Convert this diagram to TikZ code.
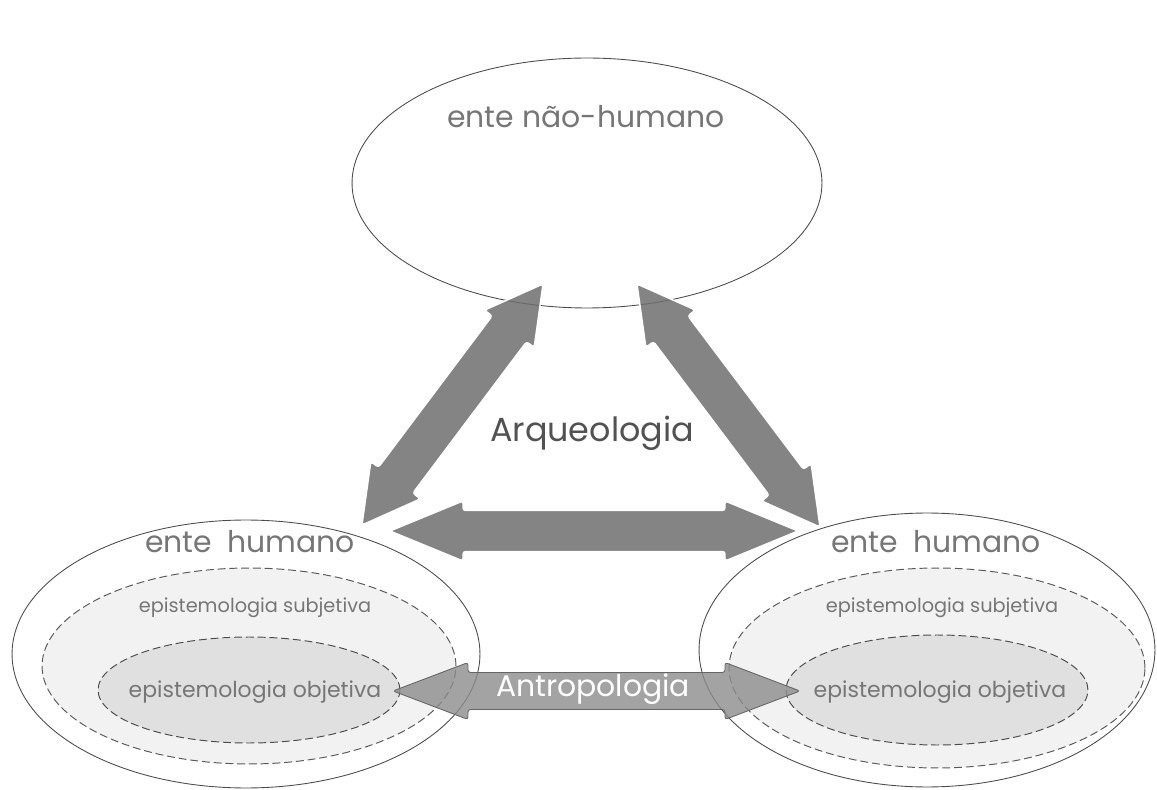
\documentclass[tikz,border=0pt]{standalone}
\usepackage{fontspec}
\setmainfont{Poppins}
\usetikzlibrary{shapes.geometric,calc}
\definecolor{txtgray}{HTML}{767676}
\definecolor{arrgray}{HTML}{6E6E6E}
\tikzset{
  outer/.style={ellipse, draw=black!70, line width=0.5pt, inner sep=0pt},
  subj/.style={ellipse, draw=black!65, line width=0.55pt, dashed, dash pattern=on 4.5pt off 2.2pt, fill=black!5, inner sep=0pt},
  obj/.style={ellipse, draw=black!70, line width=0.55pt, dashed, dash pattern=on 4.5pt off 2.2pt, fill=black!12, inner sep=0pt},
  bigtxt/.style={text=txtgray, font=\fontsize{17}{20}\selectfont},
  smalltxt/.style={text=txtgray, font=\fontsize{11}{14}\selectfont},
  darkarrow/.style={fill=arrgray, fill opacity=0.85, draw=white, line width=0.8pt, rounded corners=1.5pt},
  lightarrow/.style={fill=black!45, fill opacity=0.8, draw=black!60, line width=0.5pt, rounded corners=1.5pt}
}
\begin{document}
\begin{tikzpicture}[x=0.02cm, y=-0.02cm]
   \newcommand{\fatArrow}[6]{
        \coordinate (h1) at ($(#2)!#6!(#3)$);
        \coordinate (h2) at ($(#3)!#6!(#2)$);
        \draw[#1] (#2) -- ($(h1)!#5!90:(#3)$) -- ($(h1)!#4!90:(#3)$)
          -- ($(h2)!#4!-90:(#2)$) -- ($(h2)!#5!-90:(#2)$) -- (#3)
          -- ($(h2)!#5!90:(#2)$) -- ($(h2)!#4!90:(#2)$)
          -- ($(h1)!#4!-90:(#3)$) -- ($(h1)!#5!-90:(#3)$) -- cycle;
    }
\useasboundingbox (0,0) rectangle (1157,790);
% ellipses
\node[outer, minimum width=9.4cm, minimum height=5cm] (nh) at (587,183) {};
\node[outer, minimum width=9.36cm, minimum height=5.36cm] (hl) at (246,654) {};
\node[outer, minimum width=9.12cm, minimum height=5.48cm] (hr) at (927,650) {};
\node[subj, minimum width=8.28cm, minimum height=3.92cm] (sl) at (249,666) {};
\node[obj, minimum width=6.04cm, minimum height=2.12cm] (ol) at (249,690) {};
\node[subj, minimum width=8.32cm, minimum height=4cm] (sr) at (937,668) {};
\node[obj, minimum width=6.04cm, minimum height=2.2cm] (or) at (937,690) {};
% labels
\node[bigtxt] (nhtxt) at (586,117) {ente não-humano};
\node[bigtxt] (hltxt) at (250,542) {ente\enspace humano};
\node[bigtxt] (hrtxt) at (936,542) {ente\enspace humano};
\node[smalltxt] (sltxt) at (255,608) {epistemologia subjetiva};
\node[smalltxt] (srtxt) at (942,608) {epistemologia subjetiva};
\node[smalltxt, font=\fontsize{12.5}{15}\selectfont] (oltxt) at (255,692) {epistemologia objetiva};
\node[smalltxt, font=\fontsize{12.5}{15}\selectfont] (ortxt) at (940,692) {epistemologia objetiva};
% arrows
\coordinate (a1) at (362,525);
\coordinate (a2) at (543,284);
\coordinate (b1) at (637,284);
\coordinate (b2) at (820,527);
\coordinate (c1) at (390,531);
\coordinate (c2) at (798,531);
\coordinate (d1) at (393,691);
\coordinate (d2) at (800,691);
\fatArrow{darkarrow}{a1}{a2}{0.43cm}{0.62cm}{1.12cm}
\fatArrow{darkarrow}{b1}{b2}{0.43cm}{0.62cm}{1.12cm}
\fatArrow{darkarrow}{c1}{c2}{0.41cm}{0.6cm}{1.46cm}
\fatArrow{lightarrow}{d1}{d2}{0.37cm}{0.57cm}{1.5cm}
\node[text=black!68, font=\fontsize{19}{22}\selectfont] (arq) at (592,433) {Arqueologia};
\node[text=white, font=\fontsize{17}{20}\selectfont] (ant) at (593,689) {Antropologia};
\end{tikzpicture}
\end{document}
